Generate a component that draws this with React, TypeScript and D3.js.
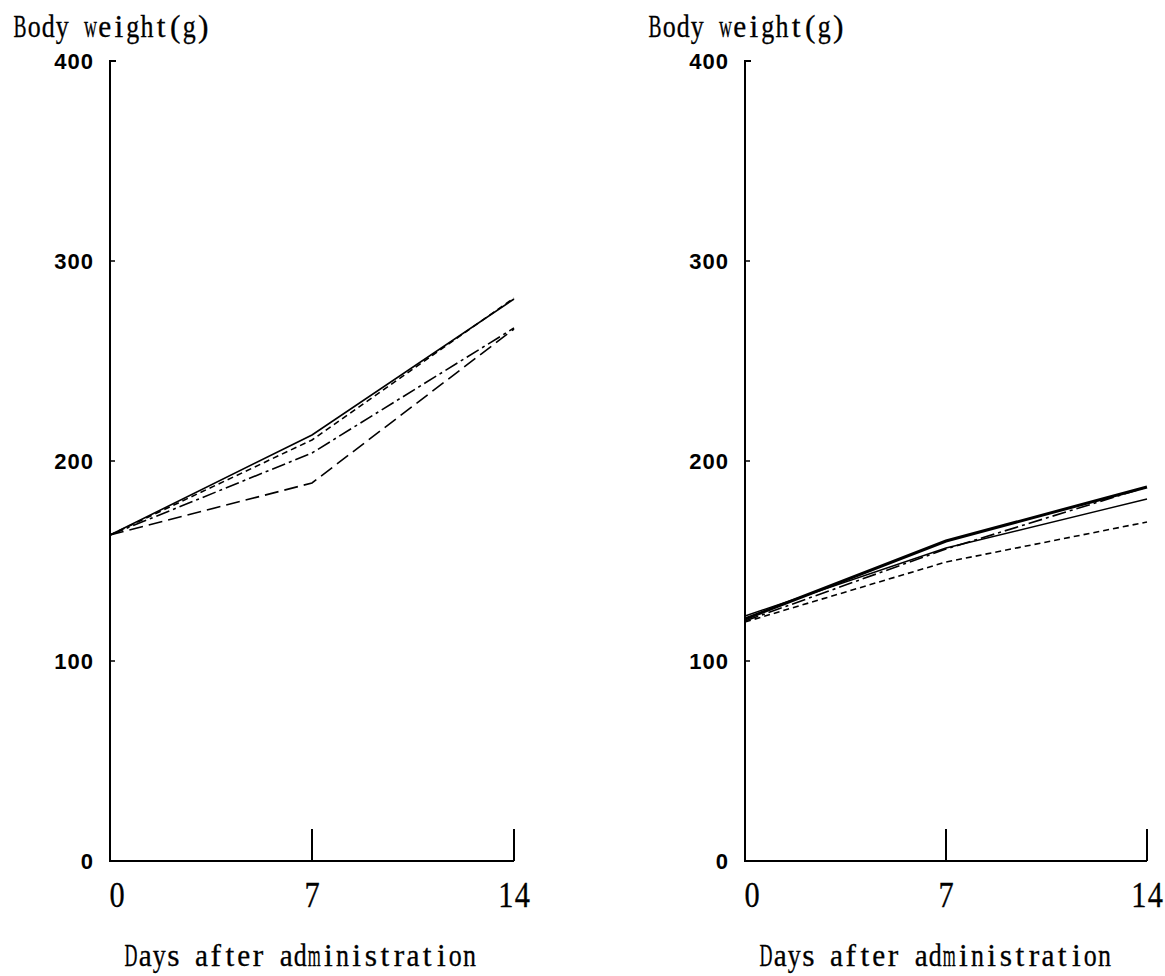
import * as d3 from 'd3'

const WIDTH = 1165
const HEIGHT = 976

// data
const days = [0, 7, 14]
const yTickValues = [0, 100, 200, 300, 400]

const leftSolid = [163, 213, 281]
const leftShortDash = [163, 210.5, 281.5]
const leftDashDot = [163, 204, 266.5]
const leftLongDash = [163, 189, 266]

const rightThick = [121, 160, 187]
const rightThin = [122.5, 156.5, 181]
const rightDashDot = [120, 156, 187]
const rightShortDash = [119.5, 149.5, 169.5]

const DASH = {
  solid: null,
  short: '6 4',
  long: '14 6',
  dashDot: '14 4 3 4',
}

type Series = { values: number[]; dash: string | null; width: number }

const leftSeries: Series[] = [
  { values: leftLongDash, dash: DASH.long, width: 1.6 },
  { values: leftDashDot, dash: DASH.dashDot, width: 1.6 },
  { values: leftShortDash, dash: DASH.short, width: 1.6 },
  { values: leftSolid, dash: DASH.solid, width: 1.6 },
]

const rightSeries: Series[] = [
  { values: rightShortDash, dash: DASH.short, width: 1.6 },
  { values: rightThin, dash: DASH.solid, width: 1.4 },
  { values: rightDashDot, dash: DASH.dashDot, width: 1.6 },
  { values: rightThick, dash: DASH.solid, width: 3 },
]

const Y_TOP = 61
const Y_BOTTOM = 861
const SERIF = '"Liberation Serif", "Times New Roman", serif'
const SANS = '"Liberation Sans", Arial, sans-serif'

// rough Times advance widths (per 1000 em) so wide glyphs can be squeezed into a half-width cell
const GLYPH_W: Record<string, number> = {
  B: 667, D: 722, m: 778, w: 722, '(': 333, ')': 333,
  a: 444, c: 444, e: 444, z: 444, s: 389, r: 333, f: 333, t: 278, i: 278, l: 278,
}

// fixed-pitch serif text, like the half-width Mincho of the original
function MonoText({ x, y, size, cell, anchor = 'start', text }: any) {
  const chars = [...String(text)]
  const total = chars.length * cell
  const start = anchor === 'middle' ? x - total / 2 : x
  return (
    <g fontFamily={SERIF} fontSize={size} stroke="#000" strokeWidth={0.3}>
      {chars.map((c, i) => {
        if (c === ' ') return null
        const w = ((GLYPH_W[c] ?? 500) / 1000) * size
        const sx = Math.min(1, (cell * 0.92) / w)
        return (
          <text
            key={i}
            transform={`translate(${start + (i + 0.5) * cell},${y}) scale(${sx},1)`}
            textAnchor="middle"
          >
            {c}
          </text>
        )
      })}
    </g>
  )
}

function Panel({ x0, plotW, series }: { x0: number; plotW: number; series: Series[] }) {
  const x = d3.scaleLinear().domain([0, 14]).range([x0, x0 + plotW])
  const y = d3.scaleLinear().domain([0, 400]).range([Y_BOTTOM, Y_TOP])
  const line = d3
    .line<number>()
    .x((_, i) => x(days[i]))
    .y(d => y(d))

  return (
    <g>
      {/* y title */}
      <MonoText x={x0 - 97} y={37} size={31.5} cell={14.1} text="Body weight(g)" />

      {/* axes */}
      <path
        d={`M${x0 + 6},${Y_TOP} H${x0} V${Y_BOTTOM} H${x(14)}`}
        fill="none"
        stroke="#000"
        strokeWidth={2}
      />
      {yTickValues.slice(1, -1).map(v => (
        <line key={v} x1={x0} x2={x0 + 5} y1={y(v)} y2={y(v)} stroke="#000" strokeWidth={1.5} />
      ))}
      {days.slice(1).map(d => (
        <line key={d} x1={x(d)} x2={x(d)} y1={Y_BOTTOM} y2={Y_BOTTOM - 32} stroke="#000" strokeWidth={2} />
      ))}

      {/* y tick labels */}
      {yTickValues.map(v => (
        <text
          key={v}
          x={x0 - 16}
          y={y(v)}
          dy="0.36em"
          textAnchor="end"
          fontFamily={SANS}
          fontWeight="bold"
          fontSize={22}
          letterSpacing={1}
        >
          {v}
        </text>
      ))}

      {/* x tick labels */}
      {days.map(d => (
        <MonoText
          key={d}
          x={x(d) + (d === 0 ? 7 : 0)}
          y={907}
          size={36}
          cell={16.5}
          anchor="middle"
          text={d}
        />
      ))}

      {/* x title */}
      <MonoText x={x0 + 14} y={966} size={31.5} cell={14.1} text="Days after administration" />

      {/* series */}
      {series.map((s, i) => (
        <path
          key={i}
          d={line(s.values) ?? ''}
          fill="none"
          stroke="#000"
          strokeWidth={s.width}
          strokeDasharray={s.dash ?? undefined}
        />
      ))}
    </g>
  )
}

export default function App() {
  return (
    <svg
      width={WIDTH}
      height={HEIGHT}
      style={{ position: 'absolute', left: 0, top: 0, background: '#fff' }}
    >
      <rect width={WIDTH} height={HEIGHT} fill="#fff" />
      <Panel x0={110} plotW={404} series={leftSeries} />
      <Panel x0={745} plotW={402} series={rightSeries} />
    </svg>
  )
}
